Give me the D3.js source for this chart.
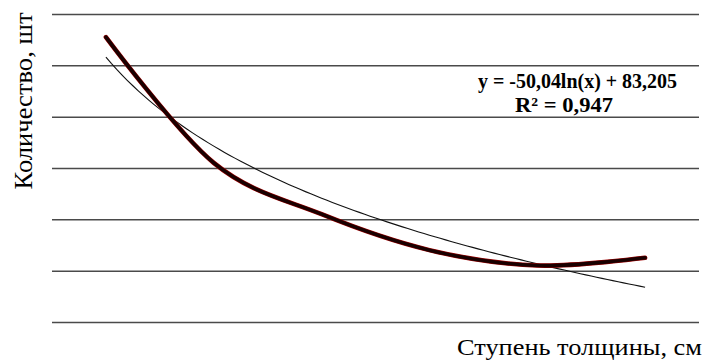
<!DOCTYPE html>
<html>
<head>
<meta charset="utf-8">
<script src="https://cdn.jsdelivr.net/npm/d3@7/dist/d3.min.js"></script>
<style>
  html, body { margin: 0; padding: 0; background: #fff; }
  svg { display: block; }
</style>
</head>
<body>
<svg id="chart" width="703" height="362"></svg>
<script>
// Diameter classes (1..6) and tree counts per class
const categories = [1, 2, 3, 4, 5, 6];
const counts = [91, 42, 22, 8, 2, 5];

// Horizontal grid values
const gridValues = [-20, 0, 20, 40, 60, 80, 100];

// Logarithmic trend: y = a*ln(x) + b
const trendA = -50.04;
const trendB = 83.205;
const trendLabel = "y = -50,04ln(x) + 83,205";
const r2Label = "R² = 0,947";

const yTitle = "Количество, шт";
const xTitle = "Ступень толщины, см";

const serif = "'Liberation Serif', 'Times New Roman', Times, 'DejaVu Serif', serif";

const svg = d3.select("#chart");
const plot = { left: 52, right: 699, top: 14, bottom: 322 };

const x = d3.scalePoint().domain(categories).range([plot.left, plot.right]).padding(0.5);
const y = d3.scaleLinear().domain([-20, 100]).range([plot.bottom, plot.top]);

// Grid lines via a left axis with full-width ticks and no labels
const grid = svg.append("g")
  .attr("transform", `translate(${plot.left},0)`)
  .call(d3.axisLeft(y).tickValues(gridValues).tickSize(-(plot.right - plot.left)).tickFormat(""));
grid.select(".domain").remove();
grid.selectAll(".tick line").attr("stroke", "#4a4a4a").attr("stroke-width", 1.5);

// Trend line sampled along the fitted curve
const first = categories[0], last = categories[categories.length - 1];
const xLin = d3.scaleLinear().domain([first, last]).range([x(first), x(last)]);
const trendPts = d3.range(0, 101).map(i => {
  const xv = first + (last - first) * i / 100;
  return [xLin(xv), y(trendA * Math.log(xv) + trendB)];
});
svg.append("path")
  .attr("d", d3.line()(trendPts))
  .attr("fill", "none")
  .attr("stroke", "#111")
  .attr("stroke-width", 1.1);

// Smoothed data line
const smooth = d3.line()
  .x((d, i) => x(categories[i]))
  .y(d => y(d))
  .curve(d3.curveCardinal.tension(0));
svg.append("path")
  .attr("d", smooth(counts))
  .attr("fill", "none")
  .attr("stroke", "#a00000")
  .attr("stroke-width", 4.6)
  .attr("stroke-linecap", "round");
svg.append("path")
  .attr("d", smooth(counts))
  .attr("fill", "none")
  .attr("stroke", "#1a0000")
  .attr("stroke-width", 3.6)
  .attr("stroke-linecap", "round");

// Trend equation
svg.append("text")
  .attr("x", 478).attr("y", 88)
  .attr("font-family", serif)
  .attr("font-size", 21).attr("font-weight", "bold")
  .attr("textLength", 199).attr("lengthAdjust", "spacingAndGlyphs")
  .text(trendLabel);
svg.append("text")
  .attr("x", 515).attr("y", 112)
  .attr("font-family", serif)
  .attr("font-size", 21).attr("font-weight", "bold")
  .attr("textLength", 98).attr("lengthAdjust", "spacingAndGlyphs")
  .text(r2Label);

// Axis titles
svg.append("text")
  .attr("transform", "translate(32,101) rotate(-90)")
  .attr("text-anchor", "middle")
  .attr("font-family", serif)
  .attr("font-size", 25)
  .attr("textLength", 177).attr("lengthAdjust", "spacingAndGlyphs")
  .text(yTitle);
svg.append("text")
  .attr("x", 457).attr("y", 355)
  .attr("font-family", serif)
  .attr("font-size", 24)
  .attr("textLength", 245).attr("lengthAdjust", "spacingAndGlyphs")
  .text(xTitle);
</script>
</body>
</html>
